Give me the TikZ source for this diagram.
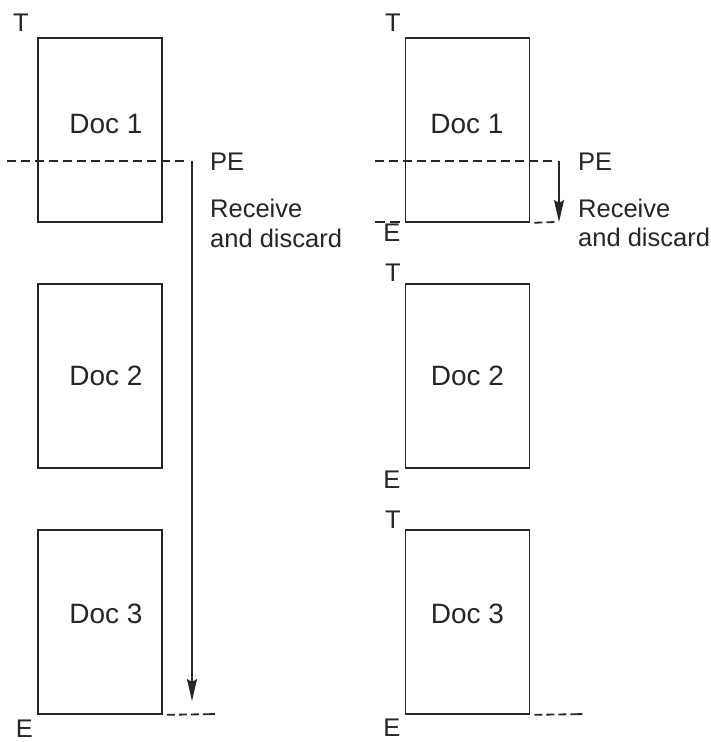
\documentclass[tikz,border=0pt]{standalone}
\usepackage{fontspec}
\setmainfont{Liberation Sans}
\usetikzlibrary{arrows.meta}
\begin{document}
\begin{tikzpicture}[x=1pt,y=-1pt,
  ln/.style={line width=1.8pt, draw=black!85},
  docbox/.style={ln, rectangle, minimum width=124pt, minimum height=184pt, inner sep=0pt},
  doctext/.style={font=\fontsize{28}{32}\selectfont, inner sep=0pt, text=black!85},
  lbl/.style={font=\fontsize{25.5}{30}\selectfont, inner sep=0pt, text=black!85},
  dsh/.style={ln, dash pattern=on 9pt off 5pt},
  dshb/.style={ln, dash pattern=on 0pt off 4pt on 8pt off 4pt on 8pt off 4pt on 8pt off 4pt on 8pt},
  arr/.style={ln, -{Stealth[length=22pt,width=10pt,inset=3pt]}}]
\useasboundingbox (0,0) rectangle (711,742);
% left column
\node[docbox] (L1) at (100,130) {};
\node[docbox] (L2) at (100,376) {};
\node[docbox] (L3) at (100,622) {};
\node[doctext] (L1t) at (106,124) {Doc 1};
\node[doctext] (L2t) at (106,376) {Doc 2};
\node[doctext] (L3t) at (106,614) {Doc 3};
\node[lbl] (LT) at (21,23) {T};
\node[lbl] (LE) at (24.5,729) {E};
\node[lbl, anchor=west] (LPE) at (210,162) {PE};
\node[lbl, anchor=base west] (LR1) at (210,217) {Receive};
\node[lbl, anchor=base west] (LR2) at (210,247) {and discard};
\coordinate (LdA) at (7,161);
\coordinate (LdB) at (188,161);
\coordinate (LaA) at (192,161);
\coordinate (LaB) at (192,701);
\coordinate (LbB) at (218,714);
\draw[dsh] (LdA) -- (LdB);
\draw[arr] (LaA) -- (LaB);
\draw[dshb] (L3.south east) -- (LbB);
% right column
\node[docbox] (R1) at (467.5,130) {};
\node[docbox] (R2) at (467.5,376) {};
\node[docbox] (R3) at (467.5,622) {};
\node[doctext] (R1t) at (467,124) {Doc 1};
\node[doctext] (R2t) at (467.5,376) {Doc 2};
\node[doctext] (R3t) at (467.5,614) {Doc 3};
\node[lbl] (RT1) at (393,23) {T};
\node[lbl] (RE1) at (392,233) {E};
\node[lbl] (RT2) at (393,273) {T};
\node[lbl] (RE2) at (392,480) {E};
\node[lbl] (RT3) at (393,520) {T};
\node[lbl] (RE3) at (392,728) {E};
\node[lbl, anchor=west] (RPE) at (578,162) {PE};
\node[lbl, anchor=base west] (RR1) at (578,217) {Receive};
\node[lbl, anchor=base west] (RR2) at (578,246) {and discard};
\coordinate (RdA) at (375,161);
\coordinate (RdB) at (555,161);
\coordinate (RaA) at (559,161);
\coordinate (RaB) at (559,222);
\coordinate (ReA) at (375,222);
\coordinate (ReB) at (403,222);
\coordinate (RfB) at (555,222);
\coordinate (RgB) at (587,714);
\draw[dsh] (RdA) -- (RdB);
\draw[arr] (RaA) -- (RaB);
\draw[ln, dash pattern=on 10pt off 5pt] (ReA) -- (ReB);
\draw[dshb] (R1.south east) -- (RfB);
\draw[dshb] (R3.south east) -- (RgB);
\end{tikzpicture}
\end{document}
